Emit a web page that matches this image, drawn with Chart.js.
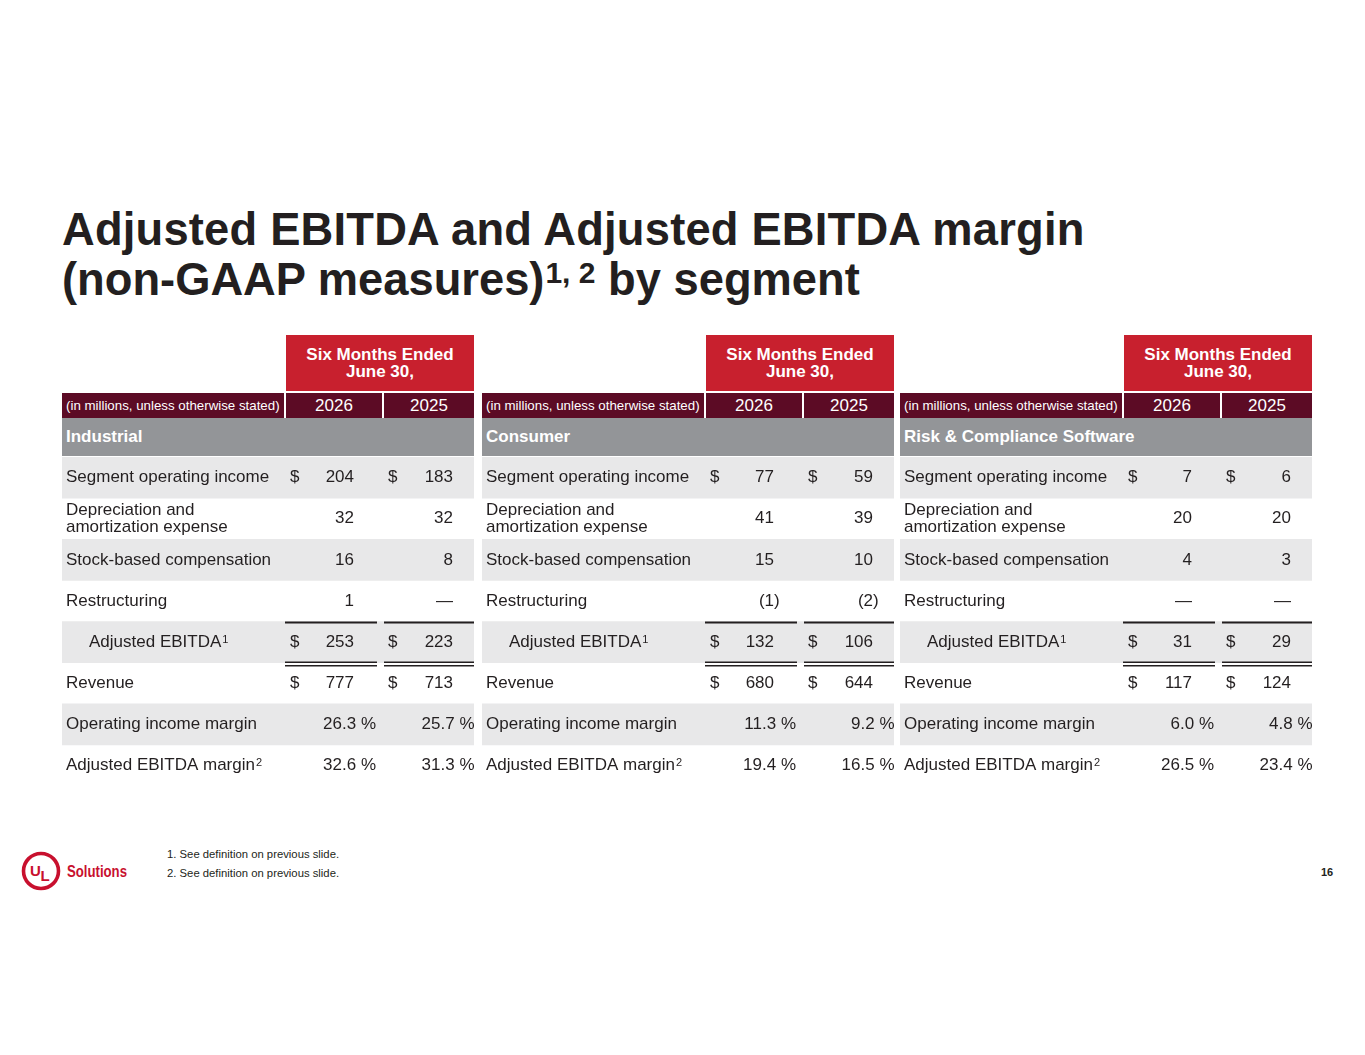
<!DOCTYPE html>
<html>
<head>
<meta charset="utf-8">
<script src="https://cdn.jsdelivr.net/npm/chart.js@4.4.1/dist/chart.umd.min.js"></script>
<style>
html,body{margin:0;padding:0;background:#fff;}
body{width:1365px;height:1055px;position:relative;overflow:hidden;font-family:'Liberation Sans',Arial,sans-serif;color:#231f20;}
#title{position:absolute;left:62px;top:205px;font-size:45.3px;font-weight:bold;line-height:50px;white-space:nowrap;}
#title .l1{letter-spacing:0.2px;}
#title .sup{font-size:30px;position:relative;top:-12px;margin-left:1px;}
.panel{position:absolute;top:335px;width:412px;height:452px;}
.hdr-red{position:absolute;left:224px;top:0;width:188px;height:56px;background:#c8202e;color:#fff;font-weight:bold;font-size:17px;line-height:17px;display:flex;align-items:center;justify-content:center;text-align:center;}
.hdr-dark{position:absolute;top:58px;height:25px;background:#5c0b25;color:#fff;display:flex;align-items:center;box-sizing:border-box;white-space:nowrap;}
.hdr-dark.lbl{font-size:13.3px;padding-left:4px;}
.hdr-dark.yr{font-size:17px;justify-content:center;}
.seg{position:absolute;left:0;top:83px;width:412px;height:38px;background:#939598;color:#fff;font-weight:bold;font-size:17px;display:flex;align-items:center;padding-left:4px;box-sizing:border-box;}
.panel canvas{position:absolute;left:0;top:122px;}
#notes{position:absolute;left:167px;top:845px;font-size:11.3px;line-height:19px;color:#231f20;}
#page{position:absolute;left:1321px;top:866px;font-size:11px;font-weight:bold;}
#logo{position:absolute;left:20px;top:850px;}
</style>
</head>
<body>
<div id="title"><span class="l1">Adjusted EBITDA and Adjusted EBITDA margin</span><br>(non-GAAP measures)<span class="sup">1, 2</span> by segment</div>

<div id="panels"></div>

<svg id="logo" width="120" height="44" viewBox="0 0 120 44">
  <circle cx="21" cy="21" r="17.5" fill="none" stroke="#c8102e" stroke-width="3.6"/>
  <text x="10" y="26" font-family="Liberation Sans, Arial" font-weight="bold" font-size="15" fill="#c8102e">U</text>
  <text x="20.5" y="30.5" font-family="Liberation Sans, Arial" font-weight="bold" font-size="15" fill="#c8102e">L</text>
  <text x="47" y="27" font-family="Liberation Sans Narrow, Liberation Sans, Arial" font-weight="bold" font-size="16" fill="#c8102e" textLength="60" lengthAdjust="spacingAndGlyphs">Solutions</text>
</svg>

<div id="notes">1. See definition on previous slide.<br>2. See definition on previous slide.</div>
<div id="page">16</div>

<script>
// ---------------- data ----------------
const segments = ['Industrial', 'Consumer', 'Risk & Compliance Software'];
const periodHeader = ['Six Months Ended', 'June 30,'];
const unitsLabel = '(in millions, unless otherwise stated)';
const years = ['2026', '2025'];
const rowLabels = [
  'Segment operating income',
  ['Depreciation and', 'amortization expense'],
  'Stock-based compensation',
  'Restructuring',
  'Adjusted EBITDA',
  'Revenue',
  'Operating income margin',
  'Adjusted EBITDA margin'
];
const rowNotes = ['', '', '', '', '1', '', '', '2'];
const rowFormat = ['usd', 'num', 'num', 'num', 'usd', 'usd', 'pct', 'pct'];

const industrial2026 = [204, 32, 16, 1, 253, 777, 26.3, 32.6];
const industrial2025 = [183, 32, 8, 0, 223, 713, 25.7, 31.3];
const consumer2026 = [77, 41, 15, -1, 132, 680, 11.3, 19.4];
const consumer2025 = [59, 39, 10, -2, 106, 644, 9.2, 16.5];
const software2026 = [7, 20, 4, 0, 31, 117, 6.0, 26.5];
const software2025 = [6, 20, 3, 0, 29, 124, 4.8, 23.4];

const panelSeries = [
  [industrial2026, industrial2025],
  [consumer2026, consumer2025],
  [software2026, software2025]
];

// ---------------- layout / style ----------------
const PANEL_LEFT = [62, 482, 900];
const PANEL_W = 412;
const TABLE_H = 329;
const COLS = [[224, 320], [322, 412]];     // x units of the year columns
const DOLLAR_X = [228, 326];
const NUM_RIGHT = [292, 391];
const PCT_RIGHT = [314, 412.5];
const RULE = [[223, 315], [322, 413]];
const LABEL_X = 4, INDENT_X = 27;
const TEXT = '#231f20';
const ROW_GRAY = '#e8e8e9';
const FONT = '"Liberation Sans", Arial, sans-serif';
const FS = 17;

const tablePlugin = {
  id: 'tableText',
  afterDatasetsDraw(chart, args, opts) {
    const {ctx, scales: {x, y}} = chart;
    const series = opts.series;
    const rowH = Math.abs(y.getPixelForValue(1) - y.getPixelForValue(0));
    ctx.save();
    ctx.fillStyle = TEXT;
    ctx.strokeStyle = TEXT;
    rowLabels.forEach((lab, i) => {
      const yc = y.getPixelForValue(i);
      ctx.font = FS + 'px ' + FONT;
      ctx.textAlign = 'left';
      ctx.textBaseline = 'middle';
      const lx = x.getPixelForValue(i === 4 ? INDENT_X : LABEL_X);
      const lines = Array.isArray(lab) ? lab : [lab];
      lines.forEach((ln, k) => ctx.fillText(ln, lx, yc + (k - (lines.length - 1) / 2) * 17));
      if (rowNotes[i]) {
        const w = ctx.measureText(lines[0]).width;
        ctx.font = '11px ' + FONT;
        ctx.textBaseline = 'alphabetic';
        ctx.fillText(rowNotes[i], lx + w + 1, yc + 1);
        ctx.textBaseline = 'middle';
        ctx.font = FS + 'px ' + FONT;
      }
      series.forEach((vals, c) => {
        const v = vals[i];
        const nr = x.getPixelForValue(NUM_RIGHT[c]);
        const fmt = rowFormat[i];
        if (fmt === 'usd') {
          ctx.textAlign = 'left';
          ctx.fillText('$', x.getPixelForValue(DOLLAR_X[c]), yc);
        }
        if (fmt === 'pct') {
          ctx.textAlign = 'right';
          ctx.fillText(v.toFixed(1) + ' %', x.getPixelForValue(PCT_RIGHT[c]), yc);
          return;
        }
        let main, suffix = '';
        if (v === 0) { main = '\u2014'; }
        else if (v < 0) { main = '(' + Math.abs(v); suffix = ')'; }
        else { main = String(v); }
        ctx.textAlign = 'right';
        ctx.fillText(main, nr, yc);
        if (suffix) { ctx.textAlign = 'left'; ctx.fillText(suffix, nr, yc); }
      });
    });
    // total rules around Adjusted EBITDA
    const ye = y.getPixelForValue(4);
    const top = ye - rowH / 2, bot = ye + rowH / 2;
    RULE.forEach(([a, b]) => {
      const xa = x.getPixelForValue(a), xb = x.getPixelForValue(b);
      ctx.lineWidth = 2;
      ctx.beginPath(); ctx.moveTo(xa, top + 1); ctx.lineTo(xb, top + 1); ctx.stroke();
      ctx.lineWidth = 1.5;
      ctx.beginPath(); ctx.moveTo(xa, bot - 0.5); ctx.lineTo(xb, bot - 0.5); ctx.stroke();
      ctx.beginPath(); ctx.moveTo(xa, bot + 3); ctx.lineTo(xb, bot + 3); ctx.stroke();
    });
    ctx.restore();
  }
};

const host = document.getElementById('panels');
segments.forEach((seg, p) => {
  const div = document.createElement('div');
  div.className = 'panel';
  div.style.left = PANEL_LEFT[p] + 'px';
  let html = '<div class="hdr-red">' + periodHeader.join('<br>') + '</div>';
  html += '<div class="hdr-dark lbl" style="left:0;width:222px">' + unitsLabel + '</div>';
  years.forEach((yr, c) => {
    html += '<div class="hdr-dark yr" style="left:' + COLS[c][0] + 'px;width:' + (COLS[c][1] - COLS[c][0]) + 'px">' + yr + '</div>';
  });
  html += '<div class="seg">' + seg.replace('&', '&amp;') + '</div>';
  div.innerHTML = html;
  const cv = document.createElement('canvas');
  cv.width = PANEL_W; cv.height = TABLE_H;
  cv.style.width = PANEL_W + 'px'; cv.style.height = TABLE_H + 'px';
  div.appendChild(cv);
  host.appendChild(div);

  new Chart(cv.getContext('2d'), {
    type: 'bar',
    data: {
      labels: rowLabels,
      datasets: [{
        data: rowLabels.map(() => [0, PANEL_W]),
        backgroundColor: rowLabels.map((_, i) => i % 2 === 0 ? ROW_GRAY : 'rgba(0,0,0,0)'),
        borderWidth: 0,
        barPercentage: 1,
        categoryPercentage: 1
      }]
    },
    options: {
      indexAxis: 'y',
      responsive: false,
      maintainAspectRatio: false,
      animation: false,
      events: [],
      layout: {padding: 0},
      plugins: {
        legend: {display: false},
        tooltip: {enabled: false},
        tableText: {series: panelSeries[p]}
      },
      scales: {
        x: {type: 'linear', min: 0, max: PANEL_W, display: false},
        y: {type: 'category', display: false}
      }
    },
    plugins: [tablePlugin]
  });
});
</script>
</body>
</html>
